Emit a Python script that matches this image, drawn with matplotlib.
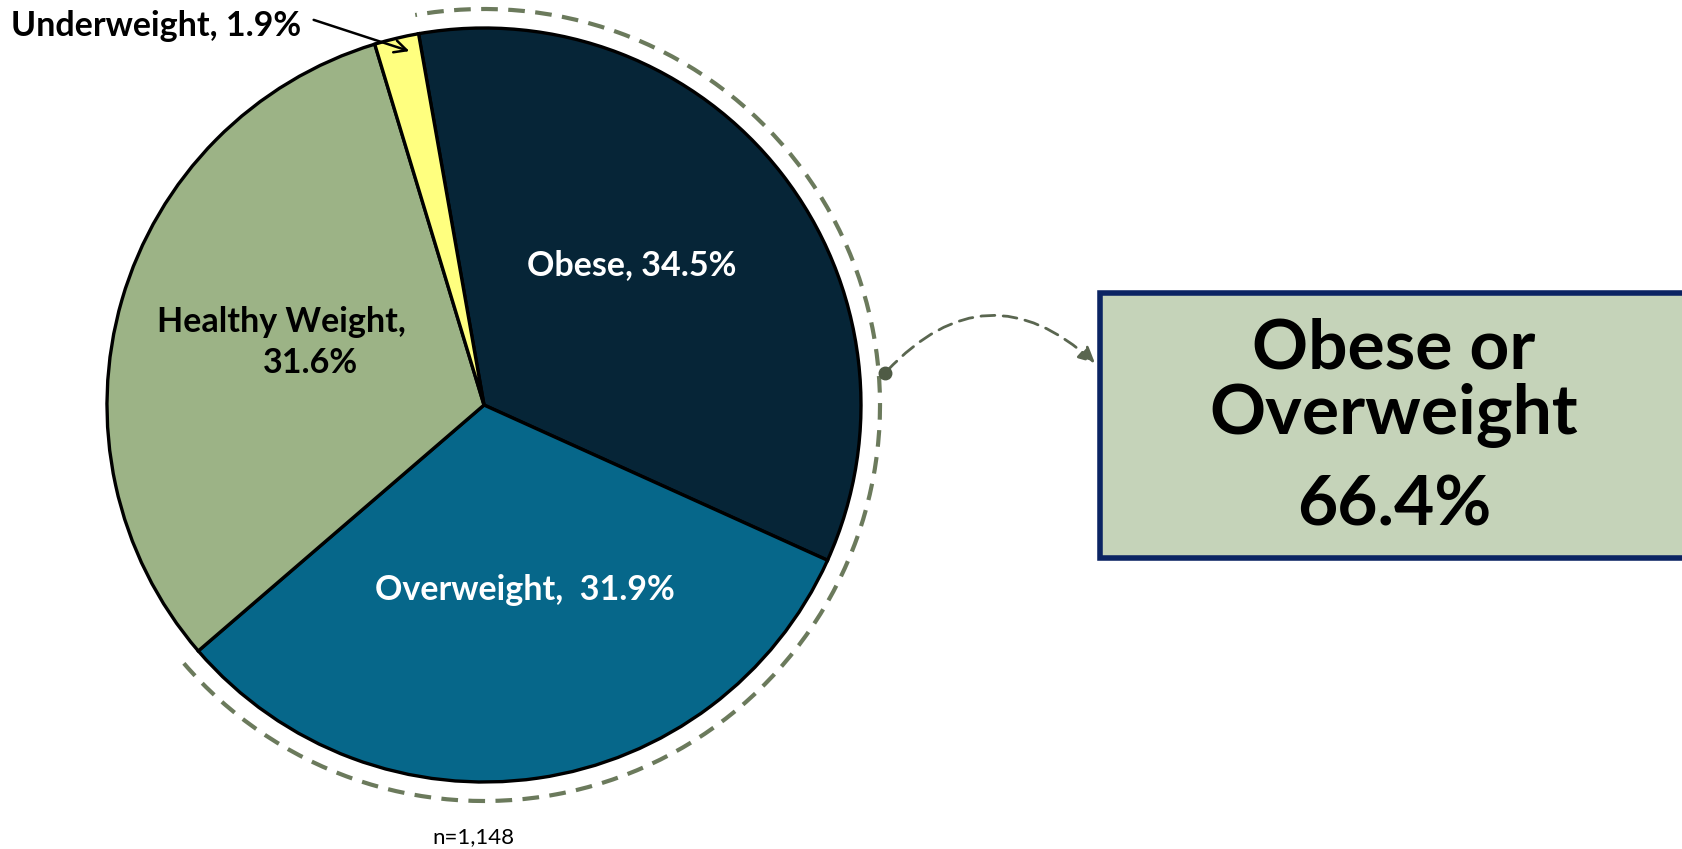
"""BMI category pie with 'obese or overweight' callout."""
import matplotlib.pyplot as plt
from matplotlib.patches import Arc, FancyArrowPatch, Rectangle

plt.rcParams["font.family"] = ["Lato", "DejaVu Sans"]

# data
categories = ["Obese", "Overweight", "Healthy Weight", "Underweight"]
shares = [34.5, 31.9, 31.6, 1.9]
colors = ["#062537", "#06678A", "#9CB386", "#FFFF7F"]
combined_label = "Obese or\nOverweight"
combined_value = shares[0] + shares[1]
sample_note = "n=1,148"

W, H = 1682, 849
fig = plt.figure(figsize=(W / 100, H / 100), dpi=100)
ax = fig.add_axes([0, 0, 1, 1])
ax.set_xlim(0, W)
ax.set_ylim(0, H)
ax.set_aspect("equal")
ax.axis("off")

cx, cy, r = 484, 444, 377
start = 100
ax.pie(shares, colors=colors, startangle=start, counterclock=False,
       center=(cx, cy), radius=r, frame=True,
       wedgeprops=dict(edgecolor="black", linewidth=2.4))
ax.set_xlim(0, W)
ax.set_ylim(0, H)
ax.axis("off")

# slice labels
bold = dict(fontsize=24.5, fontweight="bold")
ax.text(632, 584, f"{categories[0]}, {shares[0]}%", color="white",
        ha="center", va="center", **bold)
ax.text(525, 259, f"{categories[1]},  {shares[1]}%", color="white",
        ha="center", va="center", **bold)
ax.text(281, 527, f"{categories[2]},", color="black", ha="center", va="center", **bold)
ax.text(310, 486, f"{shares[2]}%", color="black", ha="center", va="center", **bold)
ax.text(11, 823, f"{categories[3]}, {shares[3]}%", color="black",
        ha="left", va="center", **bold)
ax.annotate("", xy=(412, 797), xytext=(311, 830),
            arrowprops=dict(arrowstyle="->", color="black", lw=1.8,
                            mutation_scale=22))

# dashed arc around obese + overweight
span = (shares[0] + shares[1]) / sum(shares) * 360
ax.add_patch(Arc((cx, cy), 2 * 396, 2 * 396, theta1=start - span, theta2=start,
                 color="#6B7A5C", lw=3, linestyle=(0, (4, 2.5))))

# connector to callout box
ax.plot([885], [476], marker="o", markersize=9, color="#4F5B45")
ax.add_patch(FancyArrowPatch((885, 476), (1097, 484),
                             connectionstyle="arc3,rad=-0.5",
                             arrowstyle="-|>", mutation_scale=24,
                             color="#5A6650", lw=2, linestyle=(0, (5, 3))))

# callout box
ax.add_patch(Rectangle((1100, 291), 620, 265, facecolor="#C5D3B9",
                       edgecolor="#0B2463", lw=4, clip_on=True))
ax.text(1394, 481, "Obese or", ha="center", va="baseline",
        fontsize=50, fontweight="bold")
ax.text(1394, 415, "Overweight", ha="center", va="baseline",
        fontsize=50, fontweight="bold")
ax.text(1394, 323, f"{combined_value:.1f}%", ha="center", va="baseline",
        fontsize=50, fontweight="bold")

ax.text(473, 6, sample_note, ha="center", va="baseline", fontsize=16)

fig.savefig("out.png", dpi=100)
